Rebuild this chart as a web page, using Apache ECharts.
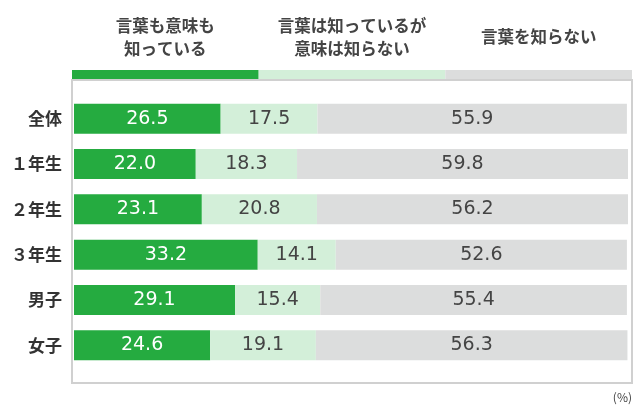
<!DOCTYPE html>
<html><head><meta charset="utf-8">
<script src="https://cdn.jsdelivr.net/npm/echarts@6/dist/echarts.min.js"></script>
<style>html,body{margin:0;padding:0;background:#fff}#c{width:640px;height:420px}</style>
</head><body><div id="c"></div>
<script>
const categories = ['全体', '１年生', '２年生', '３年生', '男子', '女子'];
const seriesNames = ['言葉も意味も\n知っている', '言葉は知っているが\n意味は知らない', '言葉を知らない'];
const knowBoth = [26.5, 22.0, 23.1, 33.2, 29.1, 24.6];
const knowWordOnly = [17.5, 18.3, 20.8, 14.1, 15.4, 19.1];
const dontKnow = [55.9, 59.8, 56.2, 52.6, 55.4, 56.3];
const colors = ['#25ab40', '#d3efd9', '#dcdddd'];
const labelColors = ['#ffffff', '#444444', '#444444'];
const unitLabel = '(%)';

const chart = echarts.init(document.getElementById('c'));
const data = [knowBoth, knowWordOnly, dontKnow];
const font = '"Noto Sans CJK JP", sans-serif';

const boxL = 72, boxR = 632, boxT = 80, boxB = 383;
const stripW = (boxR - boxL) / 3;
const graphics = [
  { type: 'rect', shape: { x: boxL, y: boxT, width: boxR - boxL, height: boxB - boxT },
    style: { fill: 'none', stroke: '#d0d0d0', lineWidth: 2 }, z: 0 },
  { type: 'text', style: { x: 632, y: 397, text: unitLabel, fill: '#444', font: '12px ' + font, textAlign: 'right', textVerticalAlign: 'middle' } }
];
seriesNames.forEach((n, i) => {
  graphics.push({ type: 'rect', shape: { x: boxL + i * stripW, y: 70, width: stripW, height: 9 }, style: { fill: colors[i] } });
  graphics.push({ type: 'text', style: { x: boxL + i * stripW + stripW / 2, y: 37, text: n, fill: '#444',
    font: 'bold 16.5px ' + font, textAlign: 'center', textVerticalAlign: 'middle', lineHeight: 23 } });
});

chart.setOption({
  animation: false,
  grid: { left: 74, right: 12, top: 96, bottom: 52, containLabel: false },
  xAxis: { type: 'value', min: 0, max: 100.1, show: false },
  yAxis: { type: 'category', data: categories, inverse: true,
    axisLine: { show: false }, axisTick: { show: false },
    axisLabel: { color: '#333', fontSize: 17, fontWeight: 'bold', fontFamily: font, margin: 12 } },
  series: seriesNames.map((n, i) => ({
    type: 'bar', name: n, stack: 'all', data: data[i], barWidth: 30,
    itemStyle: { color: colors[i] },
    label: { show: true, position: 'inside', color: labelColors[i], fontSize: 19,
      fontFamily: '"DejaVu Sans", sans-serif', formatter: p => p.value.toFixed(1) }
  })),
  graphic: graphics
});
</script></body></html>
